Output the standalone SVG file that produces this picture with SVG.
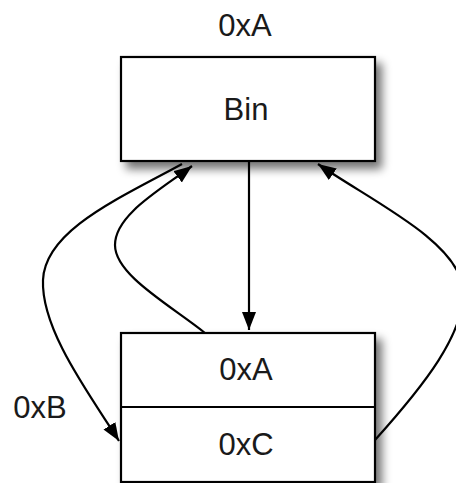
<svg xmlns="http://www.w3.org/2000/svg" width="456" height="483" viewBox="0 0 456 483">
<style>
.box{fill:#fff;stroke:#000;stroke-width:2.2}
.t{font-family:"Liberation Sans",Arial,sans-serif;font-size:31px;fill:#1a1a1a;text-anchor:middle}
.c{fill:none;stroke:#000;stroke-width:2.2}
</style>
<defs>
<filter id="sh" x="-20%" y="-20%" width="150%" height="160%">
<feGaussianBlur in="SourceAlpha" stdDeviation="5"/>
<feOffset dx="6" dy="7" result="b"/>
<feComponentTransfer><feFuncA type="linear" slope="0.55"/></feComponentTransfer>
<feMerge><feMergeNode/><feMergeNode in="SourceGraphic"/></feMerge>
</filter>
<marker id="ah" markerUnits="userSpaceOnUse" markerWidth="20" markerHeight="16" refX="18" refY="7" orient="auto">
<path d="M0,0 L18,7 L0,14 z" fill="#000"/>
</marker>
</defs>
<g id="label-top"><text class="t" x="245" y="36">0xA</text></g>
<g id="bin">
<rect class="box" x="121" y="57" width="254" height="104" filter="url(#sh)"/>
<text class="t" x="246" y="120">Bin</text>
</g>
<g id="list">
<rect class="box" x="121" y="333" width="254" height="149" filter="url(#sh)"/>
<line x1="121" y1="407" x2="375" y2="407" stroke="#000" stroke-width="2.2"/>
<text class="t" x="246" y="380">0xA</text>
<text class="t" x="246" y="455">0xC</text>
</g>
<g id="label-b"><text class="t" x="40" y="418">0xB</text></g>
<g id="connectors">
<path class="c" d="M249,161 L249,330" marker-end="url(#ah)"/>
<path class="c" d="M182,164 C120,198 45,230 43,280 C41,330 90,395 119,441" marker-end="url(#ah)"/>
<path class="c" d="M205,333 C170,305 115,275 115,245 C115,215 160,190 192,166" marker-end="url(#ah)"/>
<path class="c" d="M375,440 C420,390 470,330 462,285 C455,240 370,200 318,164" marker-end="url(#ah)"/>
</g>
</svg>
